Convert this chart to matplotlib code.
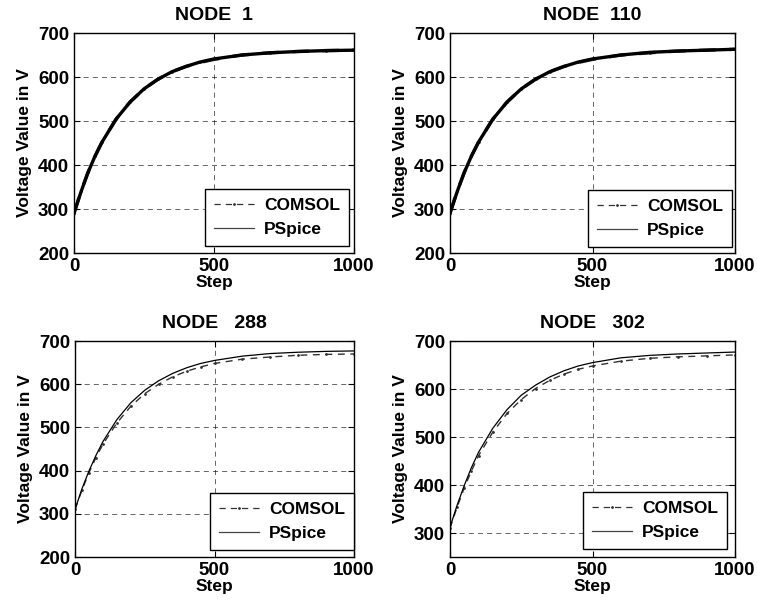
import matplotlib
matplotlib.use("Agg")
import matplotlib.pyplot as plt

plt.rcParams['font.family'] = ['Liberation Sans', 'DejaVu Sans']
plt.rcParams['font.weight'] = 'bold'

steps = [0, 25, 50, 75, 100, 150, 200, 250, 300, 350, 400, 450, 500, 600, 700, 800, 900, 1000]

titles = ["NODE  1", "NODE  110", "NODE   288", "NODE   302"]

comsol_1 = [291, 340, 383, 420, 452, 504, 543, 573, 595, 612, 624, 633, 640, 650, 655, 658, 660, 661]
pspice_1 = [290, 339, 383, 420, 452, 504, 543, 573, 595, 612, 624, 634, 641, 650, 655, 658, 660, 661]

comsol_110 = [291, 340, 383, 420, 452, 504, 543, 573, 595, 612, 624, 633, 640, 650, 655, 659, 661, 663]
pspice_110 = [290, 339, 383, 420, 452, 504, 543, 573, 595, 612, 624, 634, 641, 650, 656, 659, 661, 663]

comsol_288 = [310, 355, 395, 430, 461, 510, 549, 578, 600, 617, 630, 640, 648, 658, 663, 667, 669, 670]
pspice_288 = [310, 358, 399, 435, 467, 518, 557, 586, 608, 625, 638, 648, 655, 665, 671, 674, 676, 677]

comsol_302 = [310, 354, 394, 429, 461, 510, 549, 578, 601, 618, 631, 641, 648, 658, 664, 667, 669, 671]
pspice_302 = [312, 358, 399, 436, 468, 518, 557, 587, 608, 625, 638, 648, 655, 665, 670, 673, 675, 677]

comsol_all = [comsol_1, comsol_110, comsol_288, comsol_302]
pspice_all = [pspice_1, pspice_110, pspice_288, pspice_302]

ylims = [(200, 700), (200, 700), (200, 700), (250, 700)]
yticks_all = [[200, 300, 400, 500, 600, 700]] * 3 + [[300, 400, 500, 600, 700]]
xticks = [0, 500, 1000]

W, H = 757, 605
axes_px = [(74, 33, 354, 253), (450, 33, 735, 253), (75, 341, 354, 557), (450, 341, 735, 557)]
leg_anchor = [(0.982, 0.032), (0.989, 0.027), (1.0, 0.032), (0.972, 0.037)]
thick = [2.4, 2.4, 1.0, 1.0]

fig = plt.figure(figsize=(W / 100, H / 100), dpi=100)

for i in range(4):
    x0, y0, x1, y1 = axes_px[i]
    ax = fig.add_axes([x0 / W, 1 - y1 / H, (x1 - x0) / W, (y1 - y0) / H])
    ax.plot(steps, comsol_all[i], color='#333333', linestyle=(0, (5, 4)), linewidth=thick[i],
            marker='.', markersize=2, label='COMSOL')
    ax.plot(steps, pspice_all[i], color='black', linestyle='-', linewidth=thick[i] if i < 2 else 0.9,
            label='PSpice')
    ax.set_xlim(0, 1000)
    ax.set_ylim(*ylims[i])
    ax.set_xticks(xticks)
    ax.set_yticks(yticks_all[i])
    ax.tick_params(direction='in', top=True, right=True, labelsize=13.5, length=4, width=0.8, pad=3.5)
    for lab in ax.get_xticklabels() + ax.get_yticklabels():
        lab.set_fontweight('bold')
    ax.grid(True, color='black', linestyle=(0, (6, 5)), linewidth=0.6, alpha=0.7)
    for s in ax.spines.values():
        s.set_linewidth(1.0)
        s.set_color('black')
    ax.set_title(titles[i], fontsize=14, fontweight='bold', pad=9)
    ax.set_xlabel('Step', fontsize=12.5, fontweight='bold', labelpad=0)
    ax.set_ylabel('Voltage Value in V', fontsize=12.5, fontweight='bold', labelpad=4)
    leg = ax.legend(loc='lower right', bbox_to_anchor=leg_anchor[i], borderaxespad=0,
                    fancybox=False, edgecolor='black', framealpha=1, numpoints=1,
                    prop={'weight': 'bold', 'size': 12.5}, handlelength=2.3,
                    borderpad=0.5, labelspacing=0.55, handletextpad=0.6)
    leg.get_frame().set_linewidth(1.0)
    hl = leg.get_lines()
    hl[0].set_linewidth(0.9)
    hl[0].set_color('#333333')
    hl[1].set_linewidth(0.9)
    hl[1].set_color('#444444')

fig.savefig('out.png', dpi=100)
